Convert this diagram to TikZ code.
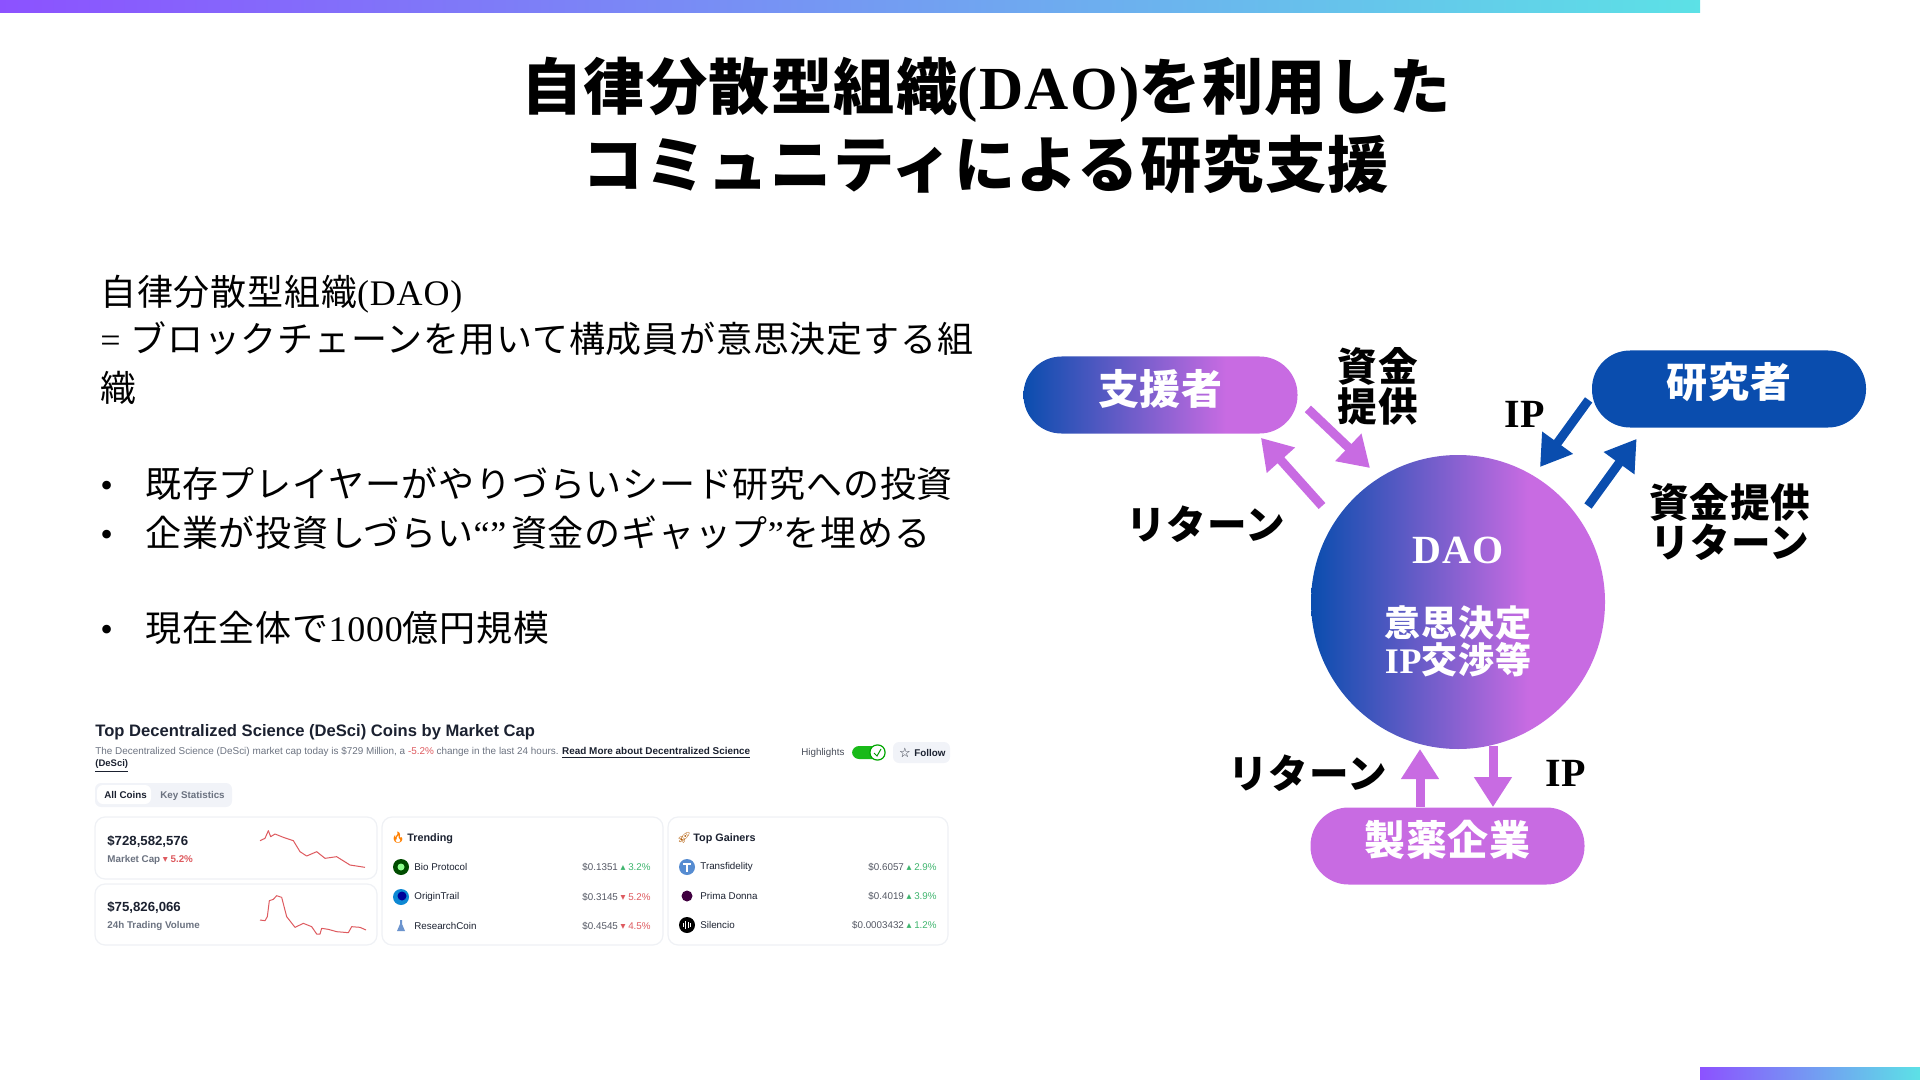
\documentclass[tikz,border=0pt]{standalone}
\usepackage{fontspec}
\setmainfont[LetterSpace=2.2]{Noto Sans CJK JP}
\newfontfamily\lat[LetterSpace=2.2]{Liberation Serif}
\newfontfamily\uifont{Liberation Sans}
\newfontfamily\symfont{DejaVu Sans}
\newfontfamily\emojifont{Noto Emoji}
\usetikzlibrary{arrows.meta,positioning,calc}
\definecolor{daoblue}{HTML}{0A4DAE}
\definecolor{daopurple}{HTML}{C86BE2}
\definecolor{barpurple}{HTML}{8C52FF}
\definecolor{barcyan}{HTML}{5CE1E6}
\definecolor{uidark}{HTML}{1B2130}
\definecolor{uigray}{HTML}{6B7280}
\definecolor{uiline}{HTML}{EFF1F5}
\definecolor{uitab}{HTML}{F1F3F8}
\definecolor{uired}{HTML}{DE5A5F}
\definecolor{uigreen}{HTML}{3FB56E}
\pgfdeclarehorizontalshading{daofade}{100bp}{color(0bp)=(daoblue); color(25bp)=(daoblue); color(62bp)=(daopurple); color(100bp)=(daopurple)}
\newcommand{\ltn}[1]{{\lat #1}}
\newcommand{\up}{{\symfont\color{uigreen}▴}}
\newcommand{\down}{{\symfont\color{uired}▾}}

\begin{document}
\begin{tikzpicture}[x=.5pt,y=-.5pt,
headline/.style={anchor=base,inner sep=0pt,font=\fontsize{30.6}{32}\bfseries\selectfont},
bodyline/.style={anchor=base west,inner sep=0pt,font=\fontsize{18}{20}\selectfont},
pill/.style={rounded corners=19pt,minimum width=137pt,minimum height=38.5pt,inner sep=0pt,text=white,font=\fontsize{20.5}{22}\bfseries\selectfont},
flowlabel/.style={inner sep=0pt,align=center,font=\fontsize{19.8}{17.5}\bfseries\selectfont},
daotext/.style={inner sep=0pt,text=white,align=center,font=\fontsize{18}{16.5}\bfseries\selectfont},
purplearrow/.style={-{Triangle[length=15pt,width=18pt]},line width=4.5pt,draw=daopurple},
bluearrow/.style={-{Triangle[length=15pt,width=18pt]},line width=4.5pt,draw=daoblue},
card/.style={draw=uiline,fill=white,rounded corners=5pt,line width=.6pt},
uitext/.style={inner sep=0pt,anchor=west,text=uidark,font=\uifont\fontsize{4.9}{6}\selectfont},
uiprice/.style={inner sep=0pt,anchor=east,text=uidark!75,font=\uifont\fontsize{4.9}{6}\selectfont},
uihead/.style={inner sep=0pt,anchor=west,text=uidark,font=\uifont\fontsize{5.4}{6}\bfseries\selectfont},
uivalue/.style={inner sep=0pt,anchor=west,text=uidark,font=\uifont\fontsize{6.6}{8}\bfseries\selectfont},
coinicon/.style={circle,inner sep=0pt,minimum size=#1},
spark/.style={draw=uired,line width=.5pt,line join=round}]
\useasboundingbox (0,0) rectangle (1920,1080);
\shade[left color=barpurple,right color=barcyan] (0,0) rectangle (1700,13);
\shade[left color=barpurple,right color=barcyan] (1700,1067) rectangle (1920,1080);

\node[headline] (titleA) at (986,110) {自律分散型組織\ltn{(DAO)}を利用した};
\node[headline] (titleB) at (986,188) {コミュニティによる研究支援};

\node[bodyline] (defA) at (100,306) {自律分散型組織\ltn{(DAO)}};
\node[bodyline] (defB) at (100,352) {\ltn{= }ブロックチェーンを用いて構成員が意思決定する組};
\node[bodyline] (defC) at (100,401) {織};
\node[bodyline] (pointA) at (100,497) {\makebox[22.5pt][l]{\ltn{•}}既存プレイヤーがやりづらいシード研究への投資};
\node[bodyline] (pointB) at (100,546) {\makebox[22.5pt][l]{\ltn{•}}企業が投資しづらい\ltn{“”}\kern2.4pt 資金のギャップ\ltn{”}を埋める};
\node[bodyline] (pointC) at (100,641) {\makebox[22.5pt][l]{\ltn{•}}現在全体で\ltn{1000}億円規模};

% screenshot
\node[inner sep=0pt,anchor=west,text=uidark,font=\uifont\fontsize{8.3}{10}\bfseries\selectfont] (coinstitle) at (95,732) {Top Decentralized Science (DeSci) Coins by Market Cap};
\node[uitext,text=uigray,font=\uifont\fontsize{4.96}{6}\selectfont] (coinsnote) at (95,753) {The Decentralized Science (DeSci) market cap today is \$729 Million, a {\color{uired}-5.2\%} change in the last 24 hours. {\color{uidark}\bfseries\underline{Read More about Decentralized Science}}};
\node[uitext,font=\uifont\fontsize{4.75}{6}\bfseries\selectfont] (coinsnoteB) at (95,766) {\underline{(DeSci)}};
\node[uitext,text=uidark!80] (highlights) at (801,753) {Highlights};
\draw[fill=green!70!black!90,draw=none,rounded corners=3.5pt] (852,746) rectangle (885,759);
\draw[fill=white,draw=green!65!black,line width=.6pt,rounded corners=3.5pt] (870,745) rectangle (885,760);
\draw[green!60!black,line width=.5pt] (874,753) -- (877,756) -- (881,749);
\fill[uitab,rounded corners=3pt] (893,742) rectangle (950,763);
\node[inner sep=0pt,text=uidark,font=\symfont\fontsize{6.5}{7}\selectfont] (followstar) at (905,753) {☆};
\node[uitext,font=\uifont\fontsize{4.9}{6}\bfseries\selectfont] (follow) at (914,753) {Follow};
\fill[uitab,rounded corners=3pt] (95,783) rectangle (232,807);
\fill[white,rounded corners=3pt] (97,785) rectangle (151,804);
\node[uitext,font=\uifont\fontsize{4.9}{6}\bfseries\selectfont] (allcoins) at (104,795) {All Coins};
\node[uitext,text=uigray,font=\uifont\fontsize{4.9}{6}\bfseries\selectfont] (keystats) at (160,796) {Key Statistics};
\draw[card] (95,817) rectangle (377,879);
\draw[card] (95,884) rectangle (377,945);
\draw[card] (382,817) rectangle (663,945);
\draw[card] (668,817) rectangle (948,945);
\node[uivalue] (capvalue) at (107,842) {\$728,582,576};
\node[uitext,text=uigray,font=\uifont\fontsize{4.9}{6}\bfseries\selectfont] (caplabel) at (107,860) {Market Cap \down{} {\color{uired}5.2\%}};
\node[uivalue] (volvalue) at (107,908) {\$75,826,066};
\node[uitext,text=uigray,font=\uifont\fontsize{4.9}{6}\bfseries\selectfont] (vollabel) at (107,926) {24h Trading Volume};
\begin{scope}[shift={(80,710)},x=.16667pt,y=-.16667pt]
\draw[spark] (540,392) -- (555,385) -- (565,362) -- (572,380) -- (585,372) -- (610,382) -- (640,392) -- (660,425) -- (680,438) -- (710,425) -- (735,445) -- (770,440) -- (810,465) -- (855,472);
\draw[spark] (540,630) -- (555,632) -- (562,620) -- (568,572) -- (580,568) -- (590,557) -- (605,562) -- (620,620) -- (645,652) -- (670,640) -- (695,650) -- (710,672) -- (720,672) -- (725,655) -- (745,658) -- (770,665) -- (805,668) -- (815,650) -- (840,652) -- (858,660);
\end{scope}
\node[inner sep=0pt,text=orange,font=\emojifont\fontsize{5.5}{6}\selectfont] (flame) at (398,838) {🔥};
\node[uihead] (trending) at (407,838.5) {Trending};
\node[coinicon=8pt,fill=green!30!black] (bioicon) at (401,867) {};
\node[coinicon=3.5pt,fill=green!45!white] (biodot) at (401,867) {};
\node[uitext] (bio) at (414,867) {Bio Protocol};
\node[uiprice] (bioprice) at (651,867) {\$0.1351 \up{} {\color{uigreen}3.2\%}};
\node[coinicon=8pt,fill=cyan!70!blue] (originicon) at (401,897) {};
\node[coinicon=4.5pt,fill=blue!60!black] (origindot) at (402,896) {};
\node[uitext] (origin) at (414,897) {OriginTrail};
\node[uiprice] (originprice) at (651,897) {\$0.3145 \down{} {\color{uired}5.2\%}};
\fill[daoblue!60!white] (397,931) -- (405,931) -- (402,924) -- (402,920) -- (400,920) -- (400,924) -- cycle;
\node[uitext] (research) at (414,926) {ResearchCoin};
\node[uiprice] (researchprice) at (651,926) {\$0.4545 \down{} {\color{uired}4.5\%}};
\node[inner sep=0pt,text=orange!70!black,font=\emojifont\fontsize{5.5}{6}\selectfont] (rocket) at (684,838) {🚀};
\node[uihead] (gainers) at (693,838.5) {Top Gainers};
\node[coinicon=8pt,fill=cyan!50!blue!70] (transicon) at (687,867) {};
\draw[white,line width=.8pt] (683,864) -- (691,864) (687,864) -- (687,872);
\node[uitext] (trans) at (700,867) {Transfidelity};
\node[uiprice] (transprice) at (937,867) {\$0.6057 \up{} {\color{uigreen}2.9\%}};
\node[coinicon=5.5pt,fill=violet!50!black] (primaicon) at (687,896) {};
\node[uitext] (prima) at (700,896) {Prima Donna};
\node[uiprice] (primaprice) at (937,896) {\$0.4019 \up{} {\color{uigreen}3.9\%}};
\node[coinicon=8pt,fill=black] (silicon) at (687,925) {};
\draw[white,line width=.4pt] (683,923) -- (683,927) (685.5,921) -- (685.5,929) (688,922) -- (688,928) (690.5,923) -- (690.5,927);
\node[uitext] (silencio) at (700,925) {Silencio};
\node[uiprice] (silencioprice) at (937,925) {\$0.0003432 \up{} {\color{uigreen}1.2\%}};

% diagram
\node[circle,minimum size=147pt,inner sep=0pt,shading=daofade] (dao) at (1458,602) {};
\node[pill,shading=daofade] (supporter) at (1160.5,395) {\raisebox{8.5pt}{支援者}};
\node[pill,fill=daoblue] (researcher) at (1729,389) {\raisebox{9pt}{研究者}};
\node[pill,fill=daopurple] (pharma) at (1447.5,846) {\raisebox{8.5pt}{製薬企業}};
\node[daotext,font=\lat\fontsize{20}{22}\bfseries\selectfont] (daoname) at (1458,550) {DAO};
\node[daotext] (daorole) at (1458,641) {意思決定\\\ltn{IP}交渉等};
\draw[purplearrow] ([shift={(10,-25)}]supporter.south east) -- ([shift={(-88,-134)}]dao.center);
\draw[purplearrow] ([shift={(-136,-96)}]dao.center) -- ([shift={(-37,4)}]supporter.south east);
\draw[bluearrow] ([shift={(-3,-28)}]researcher.south west) -- ([shift={(82,-135)}]dao.center);
\draw[bluearrow] ([shift={(130,-96)}]dao.center) -- ([shift={(45,11)}]researcher.south west);
\draw[purplearrow] ([shift={(-27.5,0)}]pharma.north) -- ([shift={(-38,147)}]dao.center);
\draw[purplearrow] ([shift={(35,144)}]dao.center) -- ([shift={(45.5,0)}]pharma.north);
\node[flowlabel] (fundA) at (1378,386) {資金\\提供};
\node[flowlabel] (returnA) at (1206,524) {リターン};
\node[flowlabel,font=\lat\fontsize{20}{22}\bfseries\selectfont] (ipA) at (1525,414) {IP};
\node[flowlabel] (fundB) at (1730,522) {資金提供\\リターン};
\node[flowlabel] (returnB) at (1308,773) {リターン};
\node[flowlabel,font=\lat\fontsize{20}{22}\bfseries\selectfont] (ipB) at (1566,773) {IP};
\end{tikzpicture}
\end{document}
